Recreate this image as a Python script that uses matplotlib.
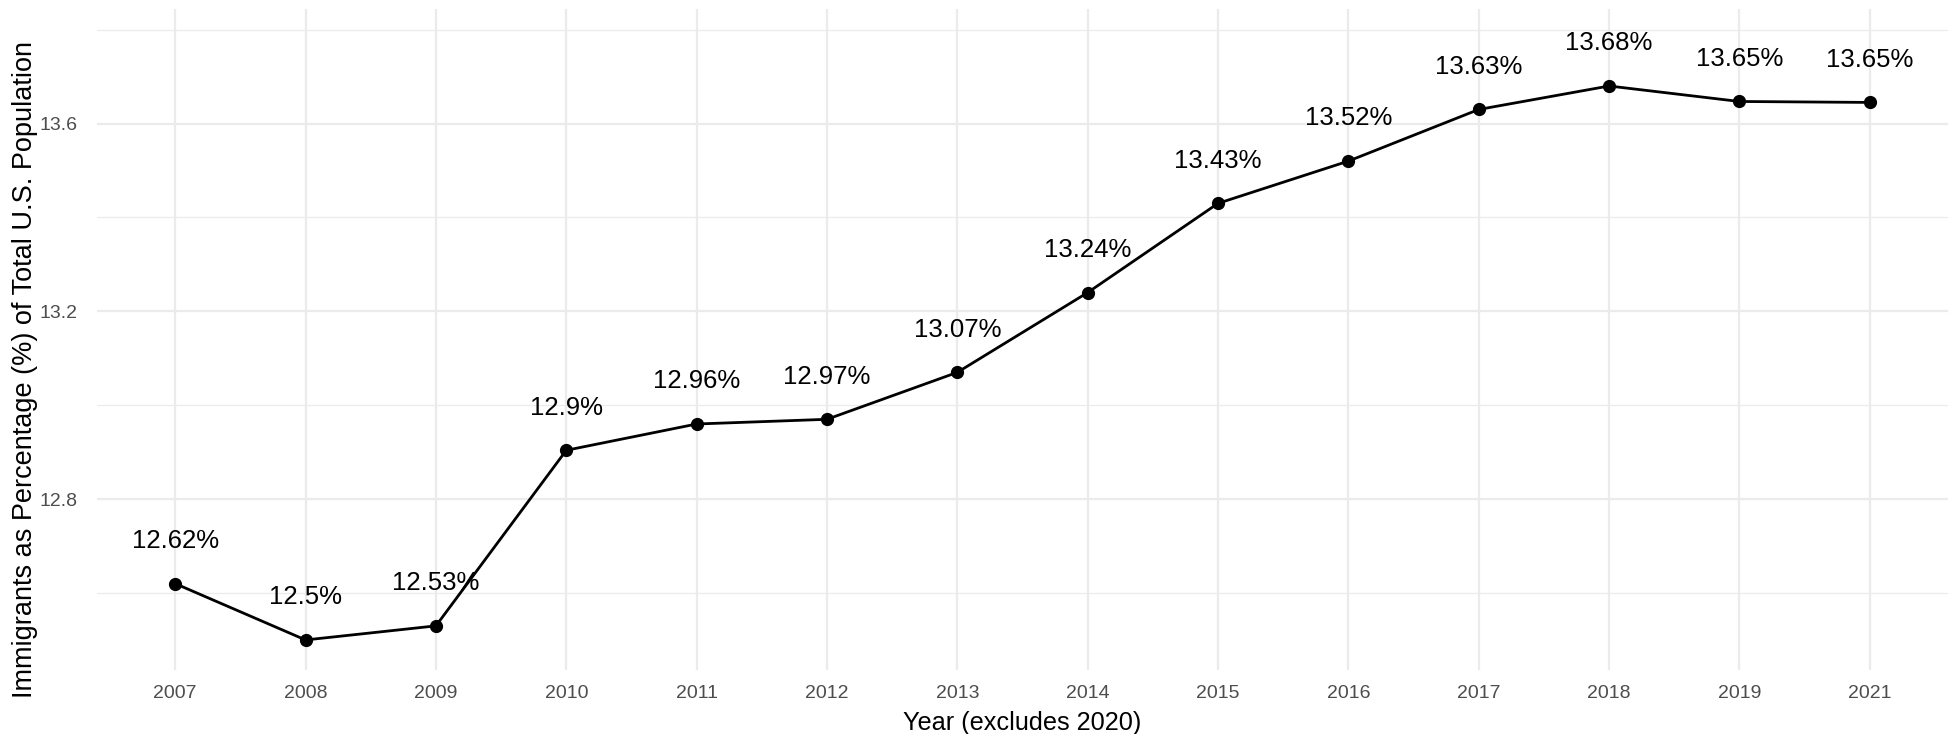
import matplotlib
matplotlib.use("Agg")
import matplotlib.pyplot as plt

plt.rcParams['font.family'] = ['Liberation Sans', 'DejaVu Sans']

# data: 2020 is left out on purpose
years = ['2007', '2008', '2009', '2010', '2011', '2012', '2013',
         '2014', '2015', '2016', '2017', '2018', '2019', '2021']
pct = [12.62, 12.50, 12.53, 12.904, 12.96, 12.97, 13.07,
       13.24, 13.43, 13.52, 13.63, 13.68, 13.647, 13.645]
labels = ['12.62%', '12.5%', '12.53%', '12.9%', '12.96%', '12.97%', '13.07%',
          '13.24%', '13.43%', '13.52%', '13.63%', '13.68%', '13.65%', '13.65%']

fig = plt.figure(figsize=(19.6, 7.34), dpi=100)
ax = fig.add_axes([97/1960, 64/734, (1948-97)/1960, (670-9)/734])

x = list(range(len(years)))
ax.plot(x, pct, color='black', lw=2, marker='o', ms=8.5, zorder=3)
for xi, yi, lab in zip(x, pct, labels):
    ax.annotate(lab, (xi, yi + 0.1), xytext=(0, -3), textcoords='offset points',
                ha='center', va='center', fontsize=18.5, color='black')

ax.set_xlim(-0.6, len(years) - 1 + 0.6)
ax.set_ylim(12.436, 13.844)
ax.set_xticks(x)
ax.set_xticklabels(years)
ax.set_yticks([12.8, 13.2, 13.6])
ax.set_yticks([12.6, 13.0, 13.4, 13.8], minor=True)

ax.grid(which='major', color='#EBEBEB', lw=1.6)
ax.grid(which='minor', axis='y', color='#EBEBEB', lw=0.9)
ax.set_axisbelow(True)
for s in ax.spines.values():
    s.set_visible(False)
ax.tick_params(which='both', length=0)
ax.tick_params(axis='x', labelsize=14, labelcolor='#4D4D4D', pad=11)
ax.tick_params(axis='y', labelsize=14, labelcolor='#4D4D4D', pad=14)

ax.set_xlabel('Year (excludes 2020)', fontsize=18.2, labelpad=6)
ax.set_ylabel('Immigrants as Percentage (%) of Total U.S. Population', fontsize=19.5)
ax.yaxis.set_label_coords(-0.032, 0.455)

fig.savefig('out.png', dpi=100)
